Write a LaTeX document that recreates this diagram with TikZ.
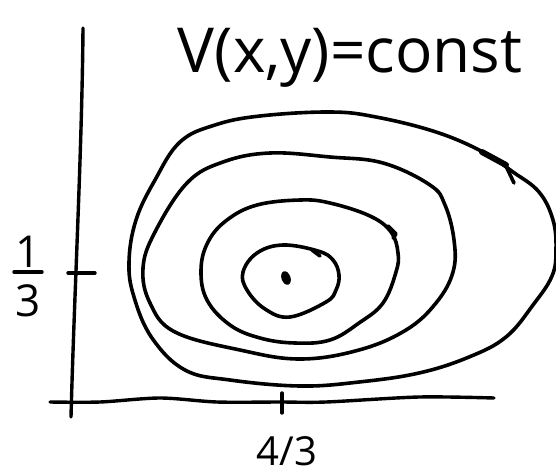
\documentclass[tikz,border=0pt]{standalone}
\usepackage{fontspec}
\newfontfamily\handfont{Open Sans}
\begin{document}
\begin{tikzpicture}[x=1pt,y=-1pt,
  curve/.style={line width=3.6pt,line join=round,line cap=round},
  axisline/.style={line width=3.4pt,line cap=round},
  lbl/.style={inner sep=0pt,font=\handfont\fontsize{44}{44}\selectfont},
]
\useasboundingbox (0,0) rectangle (556,474);
% axes
\coordinate (ytop) at (83,28);
\coordinate (ybot) at (71,417);
\coordinate (xl) at (50,402);
\coordinate (xr) at (494,398);
\draw[axisline] (ytop) .. controls (82,150) and (74,300) .. (ybot);
\draw[axisline] plot[smooth] coordinates {(xl) (100,402) (160,398) (217,402) (280,402) (326,402) (419,397) (xr)};
% ticks
\coordinate (xt1) at (282,393); \coordinate (xt2) at (282,413);
\coordinate (yt1) at (68,273); \coordinate (yt2) at (95,273);
\draw[axisline] (xt1) -- (xt2);
\draw[axisline] (yt1) -- (yt2);
% labels
\node[lbl,anchor=south] (ynum) at (28,268) {1};
\coordinate (barl) at (14,272); \coordinate (barr) at (42,272);
\draw[axisline] (barl) -- (barr);
\node[lbl,anchor=north] (yden) at (28,284) {3};
\node[inner sep=0pt,font=\handfont\fontsize{40}{40}\selectfont] (xlab) at (287,451) {4/3};
\node[inner sep=0pt,anchor=base] (title) at (350,72) {\handfont\fontsize{62}{62}\selectfont V(x,y)=const};
% level curves
\draw[curve] plot[smooth cycle,tension=0.65] coordinates {
 (330,112) (376,117) (436,132) (483,152) (513,172) (539,192) (553,220) (556,250)
 (552,276) (533,305) (506,337) (469,357) (419,373) (359,382) (300,386)
 (230,380) (185,370) (152,338) (134,297) (129,262) (136,220) (155,180)
 (180,142) (215,125) (260,116)};
\draw[curve] plot[smooth cycle,tension=0.65] coordinates {
 (330,157) (383,163) (430,185) (445,205) (454,240) (453,272) (436,303) (406,330)
 (359,350) (300,359) (240,350) (175,332) (150,303) (143,268)
 (155,232) (187,183) (223,162) (270,153)};
\draw[curve] plot[smooth cycle,tension=0.65] coordinates {
 (330,203) (370,216) (391,232) (398,253) (396,272) (383,303) (359,323) (330,340)
 (295,343) (260,338) (230,325) (207,300) (201,270) (208,242) (227,220) (257,205)
 (300,200)};
\draw[curve] plot[smooth cycle,tension=0.65] coordinates {
 (318,251) (333,260) (339,275) (336,290) (326,302) (290,317) (265,309) (247,290)
 (243,272) (257,253) (283,245)};
% small hooks
\draw[curve] (388,226) -- (396,234) -- (393,238);
\draw[curve] (312,250) -- (320,256);
% direction mark on outer curve
\draw[line width=6pt,line cap=round] (482,152) -- (506,165);
\draw[curve] (505,164) -- (514,183);
% centre point
\fill[rotate around={20:(286,278)}] (286,278) ellipse (4.5pt and 7pt);
\end{tikzpicture}
\end{document}
